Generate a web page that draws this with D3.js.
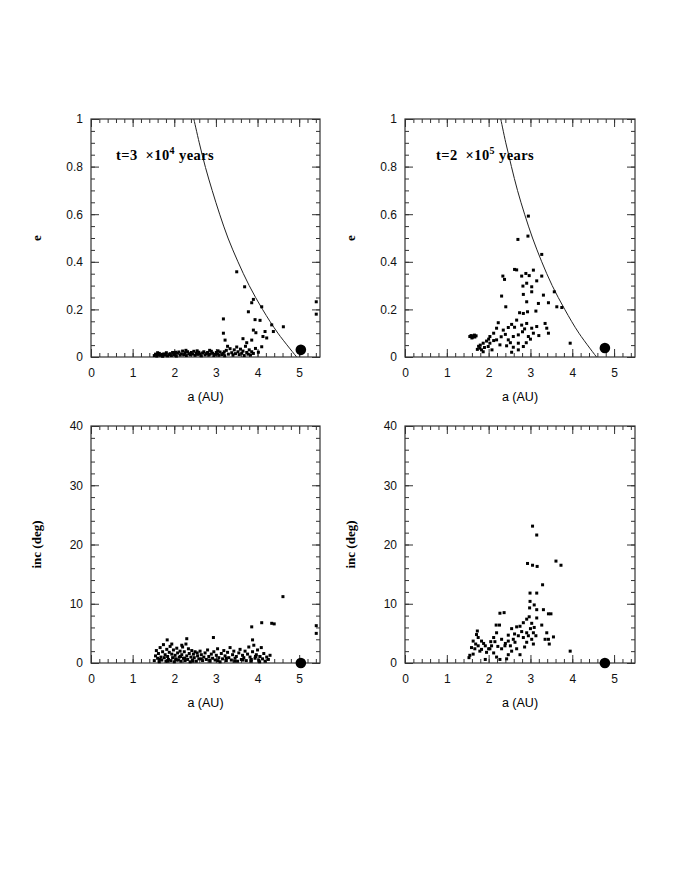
<!DOCTYPE html>
<html>
<head>
<meta charset="utf-8">
<script src="https://cdn.jsdelivr.net/npm/d3@7"></script>
<style>
  body { margin: 0; background: #fff; }
  svg { display: block; }
  .tick text { font-family: "Liberation Sans", Arial, sans-serif; font-size: 12px; fill: #111; }
  .tick line { stroke: #333; }
</style>
</head>
<body>
<svg id="fig" width="692" height="896"></svg>
<script>
// a (AU) / e pairs, top left panel, t = 3e4 years
var ecc1 = [
  [1.52,0.006],[1.55,0.012],[1.58,0.004],[1.61,0.009],[1.64,0.015],[1.67,0.007],[1.70,0.011],[1.72,0.003],
  [1.75,0.013],[1.78,0.008],[1.81,0.018],[1.84,0.005],[1.87,0.010],[1.90,0.014],[1.93,0.006],[1.96,0.019],
  [1.99,0.009],[2.02,0.012],[2.05,0.004],[2.08,0.016],[2.11,0.021],[2.14,0.008],[2.17,0.013],[2.20,0.025],
  [2.23,0.010],[2.26,0.018],[2.29,0.006],[2.32,0.022],[2.35,0.014],[2.38,0.009],[2.41,0.019],[2.44,0.012],
  [2.47,0.024],[2.50,0.007],[2.53,0.016],[2.56,0.011],[2.59,0.020],[2.62,0.013],[2.65,0.005],[2.68,0.017],
  [2.71,0.022],[2.74,0.009],[2.77,0.014],[2.80,0.019],[2.83,0.008],[2.86,0.012],[2.89,0.024],[2.92,0.016],
  [2.95,0.006],[2.98,0.011],[3.01,0.019],[3.04,0.013],[3.07,0.007],[3.10,0.021],[3.14,0.010],[3.17,0.015],
  [3.21,0.005],[3.25,0.028],[3.30,0.012],[3.34,0.035],[3.38,0.018],[3.41,0.008],[3.44,0.030],[3.47,0.014],
  [3.50,0.042],[3.53,0.022],[3.56,0.010],[3.59,0.033],[3.62,0.016],[3.65,0.025],[3.68,0.006],[3.71,0.045],
  [3.74,0.019],[3.77,0.012],[3.80,0.030],[3.83,0.008],[3.86,0.022],[3.90,0.015],[3.95,0.036],[4.02,0.020],
  [3.28,0.045],[3.20,0.022],[2.03,0.020],[2.28,0.028],[2.55,0.026],[2.85,0.028],[3.05,0.026],[1.60,0.018],
  [3.50,0.358],[3.69,0.295],[3.90,0.242],[3.86,0.228],[3.78,0.190],[4.10,0.211],[3.18,0.160],[3.94,0.157],
  [4.06,0.154],[4.62,0.127],[4.34,0.135],[3.90,0.113],[4.18,0.107],[4.13,0.086],[4.22,0.080],[3.18,0.100],
  [3.22,0.071],[3.65,0.077],[3.86,0.071],[3.96,0.102],[3.74,0.060],[4.10,0.043],[4.38,0.107],[5.41,0.232],
  [5.41,0.180]
];

// top right panel, t = 2e5 years
var ecc2 = [
  [2.95,0.592],[2.94,0.508],[2.70,0.494],[3.27,0.431],[2.62,0.368],[2.67,0.366],[3.07,0.365],[2.89,0.351],
  [2.79,0.340],[2.34,0.340],[2.38,0.326],[2.97,0.342],[3.27,0.340],[3.15,0.320],[2.91,0.310],[2.82,0.298],
  [3.03,0.295],[3.03,0.274],[3.31,0.260],[3.57,0.274],[2.83,0.263],[2.31,0.256],[2.91,0.232],[3.19,0.225],
  [3.43,0.228],[3.63,0.211],[3.75,0.208],[2.41,0.211],[3.13,0.193],[2.93,0.190],[2.74,0.186],[2.83,0.183],
  [2.67,0.155],[2.23,0.144],[2.19,0.121],[2.35,0.113],[2.47,0.124],[2.55,0.137],[2.79,0.134],[2.91,0.141],
  [3.03,0.121],[2.81,0.106],[3.15,0.128],[3.35,0.141],[3.39,0.121],[3.43,0.100],[3.07,0.100],[2.95,0.086],
  [2.71,0.093],[2.59,0.086],[2.47,0.072],[2.12,0.100],[2.03,0.086],[1.95,0.067],[1.87,0.058],[1.79,0.037],
  [1.73,0.032],[2.03,0.058],[2.12,0.069],[2.27,0.051],[2.43,0.047],[2.59,0.041],[2.71,0.030],[2.83,0.044],
  [2.71,0.058],[3.95,0.058],[1.87,0.022],[1.99,0.044],[2.19,0.072],[1.83,0.030],[1.90,0.040],[2.08,0.030],
  [1.55,0.086],[1.58,0.090],[1.61,0.083],[1.64,0.088],[1.67,0.084],[1.70,0.089],[1.60,0.080],[1.66,0.092],
  [2.62,0.125],[2.86,0.118],[3.00,0.075],[2.52,0.060],[2.40,0.095],[2.30,0.085],[3.20,0.090],[2.55,0.020],
  [2.90,0.060],[1.80,0.050],[1.76,0.045],[2.00,0.075]
];

// bottom left panel, a / inclination (deg)
var inc1 = [
  [1.52,0.4],[1.55,1.2],[1.57,2.1],[1.60,0.8],[1.62,1.6],[1.64,0.2],[1.66,2.6],[1.68,1.0],[1.70,0.5],
  [1.72,1.9],[1.74,3.1],[1.76,0.9],[1.78,1.4],[1.80,0.3],[1.82,2.3],[1.84,1.1],[1.86,0.6],[1.88,1.8],
  [1.90,2.8],[1.92,0.4],[1.94,1.5],[1.96,0.9],[1.98,2.2],[2.00,0.2],[2.02,1.3],[2.04,0.7],[2.06,2.5],
  [2.08,1.7],[2.10,0.5],[2.12,1.0],[2.14,2.0],[2.16,0.3],[2.18,1.4],[2.20,2.7],[2.22,0.8],[2.24,1.9],
  [2.26,0.4],[2.28,3.2],[2.30,1.2],[2.32,0.6],[2.34,2.4],[2.36,1.6],[2.38,0.2],[2.40,1.0],[2.42,2.1],
  [2.44,0.5],[2.46,1.5],[2.48,0.9],[2.50,1.9],[2.53,0.3],[2.56,1.2],[2.59,0.7],[2.62,2.0],[2.65,1.4],
  [2.68,0.4],[2.71,1.0],[2.74,1.7],[2.77,0.6],[2.80,2.2],[2.83,1.1],[2.86,0.3],[2.89,1.5],[2.92,0.8],
  [2.95,1.9],[2.98,0.5],[3.01,1.3],[3.04,2.4],[3.07,0.9],[3.10,0.2],[3.13,1.6],[3.16,0.7],[3.19,2.1],
  [3.22,1.2],[3.25,0.4],[3.28,1.8],[3.31,0.9],[3.34,2.6],[3.37,0.5],[3.40,1.4],[3.43,2.0],[3.46,0.8],
  [3.49,1.1],[3.52,0.3],[3.55,1.7],[3.58,2.3],[3.61,0.6],[3.64,1.3],[3.67,0.9],[3.70,2.0],[3.73,0.4],
  [3.76,1.5],[3.79,2.7],[3.82,1.0],[3.85,0.6],[3.88,1.9],[3.91,3.0],[3.94,0.8],[3.97,1.4],[4.00,2.2],
  [4.03,0.5],[4.06,1.1],[4.09,2.6],[4.12,0.7],[4.15,1.6],[4.18,0.3],[4.22,1.0],[4.26,0.6],[4.30,1.3],
  [4.61,11.2],[4.10,6.8],[4.34,6.7],[4.40,6.6],[3.86,6.1],[5.41,6.3],[5.41,5.0],[2.94,4.3],[3.88,3.9],
  [1.83,3.9],[2.30,4.1],[1.94,3.2],[2.18,3.0],
  [1.65,0.6],[1.85,0.3],[2.05,0.5],[2.25,0.8],[2.45,0.3],[2.65,0.7],[2.85,0.5],[3.05,0.4],[3.25,0.8],
  [3.45,0.3],[3.65,0.5],[3.85,0.3],[4.05,0.2],[3.95,1.1],[2.55,1.7],[2.15,1.1]
];

// bottom right panel
var inc2 = [
  [3.05,23.1],[3.15,21.6],[2.93,16.8],[3.05,16.5],[3.16,16.3],[3.61,17.2],[3.73,16.5],[3.29,13.2],
  [2.99,11.8],[3.15,11.8],[2.99,10.4],[3.09,9.8],[3.15,9.0],[2.98,9.3],[3.31,9.0],[3.43,8.3],[3.49,8.3],
  [2.27,8.4],[2.37,8.5],[2.18,6.4],[2.26,6.4],[2.91,7.4],[2.97,7.8],[2.83,6.8],[3.03,6.7],[3.15,7.6],
  [3.27,6.4],[2.67,6.1],[2.55,5.8],[2.75,6.2],[2.79,5.3],[2.91,5.1],[3.39,5.1],[3.43,4.0],[3.55,4.4],
  [3.35,4.0],[3.45,3.2],[3.07,5.1],[3.03,4.0],[3.07,3.2],[2.91,3.5],[2.83,4.3],[2.71,4.6],[2.59,4.0],
  [2.63,3.5],[2.67,2.4],[2.75,1.4],[2.47,4.7],[2.47,3.7],[2.39,2.9],[2.31,4.0],[2.31,2.4],[2.19,5.1],
  [2.12,4.3],[2.15,3.6],[2.07,2.9],[2.00,2.4],[1.92,2.9],[1.83,3.7],[1.73,5.4],[1.71,4.8],[1.75,4.3],
  [1.63,3.7],[1.59,2.6],[1.67,2.4],[1.75,2.9],[1.83,2.3],[1.95,1.8],[2.03,2.4],[2.12,1.7],[1.55,1.3],
  [1.53,0.9],[1.63,1.5],[1.92,0.6],[2.19,1.0],[2.27,0.6],[2.43,0.7],[2.47,1.4],[2.55,2.0],[3.95,2.0],
  [3.09,6.0],[3.13,4.6],[1.69,3.2],[1.79,2.0],[1.88,3.3],[2.05,3.6],[2.22,2.8],[2.52,2.9],[2.86,2.7],
  [2.95,4.6],[3.00,5.8],[2.62,4.9],[2.40,3.3]
];

// Jupiter (big dot) per panel
var jupiter = [[5.04,0.03],[4.78,0.038],[5.04,0],[4.78,0]];

// crossing curves
var curve1 = [[2.47,1.0],[2.60,0.90],[2.75,0.796],[2.91,0.70],[3.09,0.60],[3.29,0.50],[3.53,0.40],[3.80,0.30],[4.12,0.20],[4.49,0.10],[4.94,0.0]];
var curve2 = [[2.29,1.0],[2.41,0.90],[2.545,0.80],[2.69,0.70],[2.86,0.60],[3.05,0.50],[3.27,0.40],[3.52,0.30],[3.82,0.20],[4.16,0.10],[4.58,0.0]];

var xTicks = [0,1,2,3,4,5];
var eTicks = [0,0.2,0.4,0.6,0.8,1];
var iTicks = [0,10,20,30,40];
var labels = [["t=3  ×10","4"," years"],["t=2  ×10","5"," years"]];

var svg = d3.select('#fig');

function drawPanel(p) {
    var g = svg.append('g').attr('transform', 'translate(' + p.left + ',' + p.top + ')');
    var w = p.w, h = p.h;

    var x = d3.scaleLinear().domain([0,5.5]).range([0,w]);
    var y = d3.scaleLinear().domain(p.ydom).range([h,0]);

    var xMinor = d3.range(0, 5.5001, 0.2);
    var yMinor = d3.range(p.ydom[0], p.ydom[1] + 1e-6, p.yminor);

    // minor ticks on all four sides
    g.append('g').attr('transform','translate(0,' + h + ')')
        .call(d3.axisBottom(x).tickValues(xMinor).tickSize(-4).tickFormat(''));
    g.append('g').call(d3.axisTop(x).tickValues(xMinor).tickSize(-4).tickFormat(''));
    g.append('g').call(d3.axisLeft(y).tickValues(yMinor).tickSize(-4).tickFormat(''));
    g.append('g').attr('transform','translate(' + w + ',0)')
        .call(d3.axisRight(y).tickValues(yMinor).tickSize(-4).tickFormat(''));

    // major ticks
    g.append('g').attr('transform','translate(0,' + h + ')')
        .call(d3.axisBottom(x).tickValues(xTicks).tickSize(-8).tickPadding(11).tickFormat(d3.format('d')));
    g.append('g').call(d3.axisTop(x).tickValues(xTicks).tickSize(-8).tickFormat(''));
    g.append('g').call(d3.axisLeft(y).tickValues(p.yticks).tickSize(-8).tickPadding(8).tickFormat(d => String(d)));
    g.append('g').attr('transform','translate(' + w + ',0)')
        .call(d3.axisRight(y).tickValues(p.yticks).tickSize(-8).tickFormat(''));

    g.selectAll('.domain').remove();

    g.append('rect')
        .attr('width', w).attr('height', h)
        .attr('fill', 'none')
        .attr('stroke', '#333')
        .attr('stroke-width', 1.2);

    if (p.curve) {
        var line = d3.line().x(d => x(d[0])).y(d => y(d[1])).curve(d3.curveCardinal);
        g.append('path')
            .datum(p.curve)
            .attr('d', line)
            .attr('fill', 'none')
            .attr('stroke', '#222')
            .attr('stroke-width', 1);
    }

    g.selectAll('rect.pt')
        .data(p.data)
        .enter()
        .append('rect')
        .attr('class', 'pt')
        .attr('x', d => x(d[0]) - 1.5)
        .attr('y', d => y(d[1]) - 1.5)
        .attr('width', 3)
        .attr('height', 3)
        .style('fill', '#000');

    g.append('circle')
        .attr('cx', x(p.jup[0]))
        .attr('cy', y(p.jup[1]))
        .attr('r', 5.3)
        .style('fill', '#000');

    // axis titles
    g.append('text')
        .attr('x', w/2).attr('y', h + 44)
        .attr('text-anchor', 'middle')
        .style('font-family', '"Liberation Sans", Arial, sans-serif')
        .style('font-size', '12.5px')
        .text('a (AU)');

    g.append('text')
        .attr('transform', 'translate(' + p.ytx + ',' + (h/2) + ') rotate(-90)')
        .attr('text-anchor', 'middle')
        .style('font-family', '"Liberation Serif", "Times New Roman", serif')
        .style('font-size', '13px')
        .style('font-weight', 'bold')
        .text(p.ytitle);

    if (p.label) {
        var t = g.append('text')
            .attr('x', p.lx).attr('y', 41)
            .attr('xml:space', 'preserve')
            .style('white-space', 'pre')
            .style('font-family', '"Liberation Serif", "Times New Roman", serif')
            .style('font-size', '14.5px')
            .style('letter-spacing', '0.4px')
            .style('font-weight', 'bold');
        t.append('tspan').text(p.label[0]);
        t.append('tspan').attr('dy', -6).style('font-size', '10px').text(p.label[1]);
        t.append('tspan').attr('dy', 6).text(p.label[2]);
    }
}

drawPanel({left: 91, top: 119, w: 229, h: 238, ydom: [0,1], yminor: 0.05, yticks: eTicks,
           data: ecc1, jup: jupiter[0], curve: curve1, ytitle: 'e', ytx: -50, label: labels[0], lx: 25});
drawPanel({left: 405, top: 119, w: 230, h: 238, ydom: [0,1], yminor: 0.05, yticks: eTicks,
           data: ecc2, jup: jupiter[1], curve: curve2, ytitle: 'e', ytx: -50, label: labels[1], lx: 31});
drawPanel({left: 91, top: 426, w: 229, h: 237, ydom: [0,40], yminor: 2, yticks: iTicks,
           data: inc1, jup: jupiter[2], ytitle: 'inc (deg)', ytx: -50});
drawPanel({left: 405, top: 426, w: 230, h: 237, ydom: [0,40], yminor: 2, yticks: iTicks,
           data: inc2, jup: jupiter[3], ytitle: 'inc (deg)', ytx: -50});
</script>
</body>
</html>
